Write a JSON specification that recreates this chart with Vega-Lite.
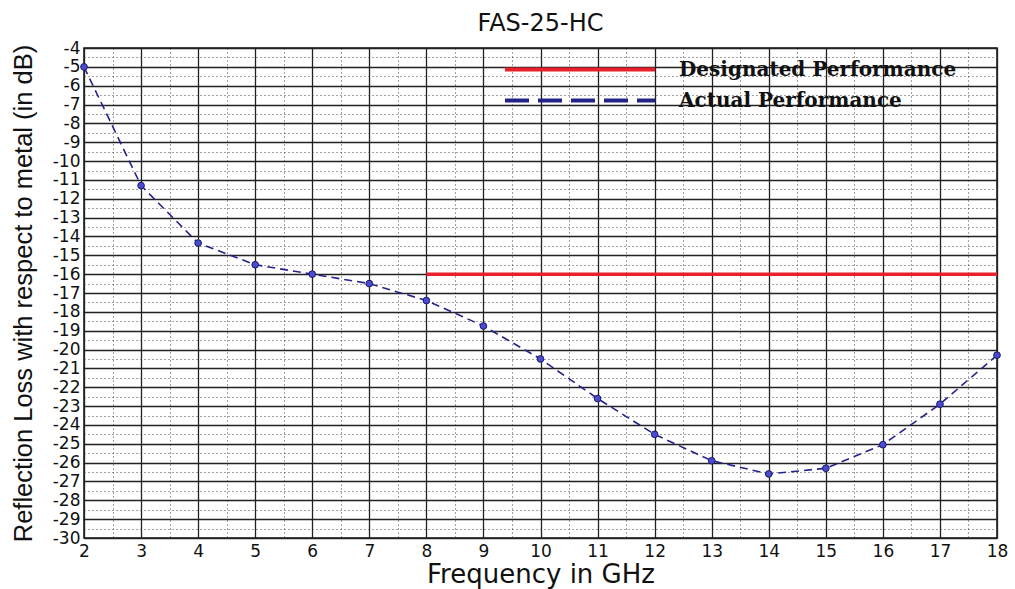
{
  "$schema": "https://vega.github.io/schema/vega-lite/v6.json",
  "width": 913,
  "height": 490,
  "autosize": "none",
  "padding": {"left": 84, "top": 48, "right": 18, "bottom": 51},
  "background": "white",
  "title": {"text": "FAS-25-HC", "font": "DejaVu Sans", "fontSize": 24, "fontWeight": "normal", "color": "#111", "offset": 3, "anchor": "middle"},
  "config": {
    "view": {"stroke": "#111", "strokeWidth": 1.5},
    "axis": {
      "labelFont": "DejaVu Sans", "labelFontSize": 17, "labelColor": "#111",
      "titleFont": "DejaVu Sans", "titleFontSize": 26, "titleFontWeight": "normal", "titleColor": "#111",
      "ticks": false, "domain": false, "grid": true, "labelOverlap": false, "labelFlush": false,
      "gridColor": {"condition": {"test": "datum.value % 1 !== 0", "value": "#444"}, "value": "#222"},
      "gridDash": {"condition": {"test": "datum.value % 1 !== 0", "value": [1, 3]}, "value": []},
      "gridWidth": {"condition": {"test": "datum.value % 1 !== 0", "value": 1}, "value": 1.3},
      "gridOpacity": 1,
      "labelExpr": "datum.value % 1 === 0 ? '' + datum.value : ''"
    }
  },
  "datasets": {
    "actual": [
      {"freq": 2, "rl": -5.0, "series": "Actual Performance"},
      {"freq": 3, "rl": -11.3, "series": "Actual Performance"},
      {"freq": 4, "rl": -14.35, "series": "Actual Performance"},
      {"freq": 5, "rl": -15.5, "series": "Actual Performance"},
      {"freq": 6, "rl": -16.0, "series": "Actual Performance"},
      {"freq": 7, "rl": -16.5, "series": "Actual Performance"},
      {"freq": 8, "rl": -17.4, "series": "Actual Performance"},
      {"freq": 9, "rl": -18.75, "series": "Actual Performance"},
      {"freq": 10, "rl": -20.5, "series": "Actual Performance"},
      {"freq": 11, "rl": -22.6, "series": "Actual Performance"},
      {"freq": 12, "rl": -24.5, "series": "Actual Performance"},
      {"freq": 13, "rl": -25.9, "series": "Actual Performance"},
      {"freq": 14, "rl": -26.6, "series": "Actual Performance"},
      {"freq": 15, "rl": -26.3, "series": "Actual Performance"},
      {"freq": 16, "rl": -25.05, "series": "Actual Performance"},
      {"freq": 17, "rl": -22.9, "series": "Actual Performance"},
      {"freq": 18, "rl": -20.3, "series": "Actual Performance"}
    ],
    "designated": [
      {"freq": 8, "rl": -16, "series": "Designated Performance"},
      {"freq": 18, "rl": -16, "series": "Designated Performance"}
    ]
  },
  "encoding": {
    "x": {"field": "freq", "type": "quantitative",
      "scale": {"domain": [2, 18], "nice": false, "zero": false},
      "axis": {"title": "Frequency in GHz", "labelPadding": 5, "titlePadding": 2,
        "values": [2,2.5,3,3.5,4,4.5,5,5.5,6,6.5,7,7.5,8,8.5,9,9.5,10,10.5,11,11.5,12,12.5,13,13.5,14,14.5,15,15.5,16,16.5,17,17.5,18]}},
    "y": {"field": "rl", "type": "quantitative",
      "scale": {"domain": [-30, -4], "nice": false, "zero": false},
      "axis": {"title": "Reflection Loss with respect to metal (in dB)", "labelPadding": 4, "titlePadding": 16,
        "titleFont": "Liberation Sans", "titleFontSize": 25.5,
        "values": [-30,-29.5,-29,-28.5,-28,-27.5,-27,-26.5,-26,-25.5,-25,-24.5,-24,-23.5,-23,-22.5,-22,-21.5,-21,-20.5,-20,-19.5,-19,-18.5,-18,-17.5,-17,-16.5,-16,-15.5,-15,-14.5,-14,-13.5,-13,-12.5,-12,-11.5,-11,-10.5,-10,-9.5,-9,-8.5,-8,-7.5,-7,-6.5,-6,-5.5,-5,-4.5,-4]}}
  },
  "layer": [
    {
      "data": {"name": "designated"},
      "mark": {"type": "line", "strokeWidth": 3.5},
      "encoding": {
        "color": {"field": "series", "type": "nominal",
          "scale": {"domain": ["Designated Performance", "Actual Performance"], "range": ["#e8212a", "#23238a"]},
          "legend": {
            "title": null, "orient": "none", "legendX": 419, "legendY": 9,
            "symbolType": "stroke", "symbolSize": 22500, "symbolStrokeWidth": 4, "clipHeight": 25,
            "labelFont": "DejaVu Serif", "labelFontWeight": "bold", "labelFontSize": 20, "labelColor": "#111",
            "labelOffset": 22, "rowPadding": 6, "labelLimit": 400,
            "encode": {"symbols": {"update": {
              "strokeDash": {"signal": "datum.label === 'Actual Performance' ? [24, 9] : [1, 0]"}
            }}}
          }}
      }
    },
    {
      "data": {"name": "actual"},
      "mark": {"type": "line", "strokeWidth": 1.6, "strokeDash": [8, 5]},
      "encoding": {"color": {"field": "series", "type": "nominal"}}
    },
    {
      "data": {"name": "actual"},
      "mark": {"type": "point", "filled": true, "fill": "#4b4bcf", "stroke": "#1a1a70", "strokeWidth": 1, "size": 45, "opacity": 1},
      "encoding": {}
    }
  ]
}
